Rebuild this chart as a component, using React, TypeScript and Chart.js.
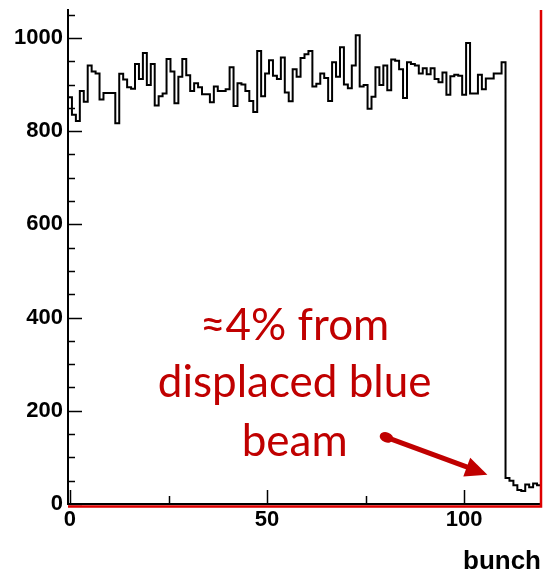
import React, { useEffect, useRef } from "react";
import { Chart, registerables } from "chart.js";

Chart.register(...registerables);

// Counts per bunch crossing (bins centred on the bunch number).
const bunchCounts: number[] = [
  873, 835, 822, 886, 863, 941, 928, 924, 868, 882,
  882, 882, 817, 923, 911, 894, 891, 944, 912, 968,
  899, 944, 855, 875, 881, 955, 928, 860, 917, 955,
  920, 886, 903, 894, 879, 879, 862, 896, 886, 886,
  890, 937, 854, 903, 900, 886, 865, 841, 972, 875,
  924, 952, 919, 912, 958, 883, 864, 933, 917, 957,
  965, 972, 896, 902, 924, 914, 865, 948, 917, 980,
  900, 892, 941, 1006, 896, 899, 848, 874, 937, 899,
  941, 888, 954, 951, 933, 871, 948, 944, 941, 924,
  935, 922, 935, 912, 905, 926, 878, 918, 921, 919,
  878, 989, 881, 881, 921, 890, 913, 913, 924, 924,
  948, 56, 50, 40, 30, 28, 42, 36, 44, 40,
];

const xLabelTicks: number[] = [0, 50, 100];
const xMinorTicks: number[] = [25, 75];
const yLabelTicks: number[] = [0, 200, 400, 600, 800, 1000];
const yMinorTicks: number[] = [
  50, 100, 150, 250, 300, 350, 450, 500, 550, 650, 700, 750, 850, 900, 950, 1050,
];

const xAxisTitle = "bunch";
const noteLines: string[] = ["\u22484% from", "displaced blue", "beam"];
// Note anchor points in data units: text centre x, line baselines, arrow ends.
const noteCenterX = 57;
const noteBaselines: number[] = [351, 229, 104];
const arrowTail = { x: 80.3, y: 143 };
const arrowTip = { x: 105.9, y: 63 };

const NOTE_RED = "#c00000";
const FRAME_RED = "#dd0000";
const AXIS_FONT = "'Liberation Sans', Arial, Helvetica, sans-serif";

const frameAndNotes = {
  id: "frameAndNotes",
  afterDatasetsDraw(chart: any) {
    const { ctx, chartArea, scales } = chart;
    const xs = scales.x;
    const ys = scales.y;
    const { left, right, top, bottom } = chartArea;

    ctx.save();
    // inward tick marks
    ctx.strokeStyle = "#000";
    ctx.lineWidth = 1.5;
    const yTick = (v: number, len: number) => {
      const py = Math.round(ys.getPixelForValue(v)) + 0.5;
      ctx.beginPath();
      ctx.moveTo(left, py);
      ctx.lineTo(left + len, py);
      ctx.stroke();
    };
    yLabelTicks.forEach((v) => yTick(v, 14));
    yMinorTicks.forEach((v) => yTick(v, 7));
    const xTick = (v: number, len: number) => {
      const px = Math.round(xs.getPixelForValue(v)) + 0.5;
      ctx.beginPath();
      ctx.moveTo(px, bottom);
      ctx.lineTo(px, bottom - len);
      ctx.stroke();
    };
    xLabelTicks.forEach((v) => xTick(v, 14));
    xMinorTicks.forEach((v) => xTick(v, 8));

    // red outline along the bottom and right edges
    ctx.strokeStyle = FRAME_RED;
    ctx.lineWidth = 2.5;
    ctx.beginPath();
    ctx.moveTo(left, bottom + 2.5);
    ctx.lineTo(right, bottom + 2.5);
    ctx.lineTo(right, top);
    ctx.stroke();

    // annotation text
    ctx.fillStyle = NOTE_RED;
    ctx.font = "44px Lato, 'Open Sans', sans-serif";
    ctx.textAlign = "center";
    ctx.textBaseline = "alphabetic";
    const cx = xs.getPixelForValue(noteCenterX);
    noteLines.forEach((line, i) => {
      ctx.fillText(line, cx, ys.getPixelForValue(noteBaselines[i]));
    });

    // arrow from the note to the low bunches
    const x0 = xs.getPixelForValue(arrowTail.x);
    const y0 = ys.getPixelForValue(arrowTail.y);
    const x1 = xs.getPixelForValue(arrowTip.x);
    const y1 = ys.getPixelForValue(arrowTip.y);
    const ang = Math.atan2(y1 - y0, x1 - x0);
    const headLen = 22;
    const headHalf = 10;
    const bx = x1 - headLen * Math.cos(ang);
    const by = y1 - headLen * Math.sin(ang);
    ctx.strokeStyle = NOTE_RED;
    ctx.lineWidth = 5;
    ctx.lineCap = "butt";
    ctx.beginPath();
    ctx.moveTo(x0, y0);
    ctx.lineTo(bx + 2 * Math.cos(ang), by + 2 * Math.sin(ang));
    ctx.stroke();
    ctx.beginPath();
    ctx.moveTo(x1, y1);
    ctx.lineTo(bx - headHalf * Math.sin(ang), by + headHalf * Math.cos(ang));
    ctx.lineTo(bx + headHalf * Math.sin(ang), by - headHalf * Math.cos(ang));
    ctx.closePath();
    ctx.fill();
    // oval start cap
    ctx.beginPath();
    ctx.ellipse(x0, y0, 7, 5, ang, 0, Math.PI * 2);
    ctx.fill();
    ctx.restore();
  },
};

const zeroPadding = (s: any) => {
  s.paddingTop = 0;
  s.paddingBottom = 0;
  s.paddingLeft = 0;
  s.paddingRight = 0;
};

export default function App() {
  const canvasRef = useRef<HTMLCanvasElement | null>(null);

  useEffect(() => {
    if (!canvasRef.current) return;
    // bin edges: each bin spans n-0.5 .. n+0.5
    const points = bunchCounts.map((v, i) => ({ x: i - 0.5, y: v }));
    points.push({ x: bunchCounts.length - 0.5, y: bunchCounts[bunchCounts.length - 1] });

    const tickFont = { family: AXIS_FONT, size: 22, weight: "bold" as const };

    const chart = new Chart(canvasRef.current, {
      type: "line",
      data: {
        datasets: [
          {
            data: points,
            stepped: "before",
            borderColor: "#000",
            borderWidth: 2,
            pointRadius: 0,
            fill: false,
            tension: 0,
          },
        ],
      },
      options: {
        animation: false,
        responsive: false,
        devicePixelRatio: 1,
        layout: { padding: { left: 0, right: 2, top: 10, bottom: 0 } },
        plugins: {
          legend: { display: false },
          tooltip: { enabled: false },
        },
        scales: {
          x: {
            type: "linear",
            min: -0.5,
            max: 119.5,
            grid: { display: false, drawTicks: false },
            border: { display: true, color: "#000", width: 2 },
            ticks: {
              color: "#000",
              font: tickFont,
              padding: 3,
              maxRotation: 0,
              autoSkip: false,
              callback: (v: any) => String(v),
            },
            afterBuildTicks: (s: any) => {
              s.ticks = xLabelTicks.map((v) => ({ value: v }));
            },
            afterFit: (s: any) => {
              s.height = 71;
              zeroPadding(s);
            },
            title: {
              display: true,
              text: xAxisTitle,
              align: "end",
              color: "#000",
              font: { family: AXIS_FONT, size: 26, weight: "bold", lineHeight: 1 },
              padding: { top: 0, bottom: 0 },
            },
          },
          y: {
            type: "linear",
            min: 0,
            max: 1060,
            grid: { display: false, drawTicks: false },
            border: { display: true, color: "#000", width: 2 },
            ticks: {
              color: "#000",
              font: tickFont,
              padding: 5,
              callback: (v: any) => String(v),
            },
            afterBuildTicks: (s: any) => {
              s.ticks = yLabelTicks.map((v) => ({ value: v }));
            },
            afterFit: (s: any) => {
              s.width = 68;
              zeroPadding(s);
            },
          },
        },
      },
      plugins: [frameAndNotes],
    });
    return () => chart.destroy();
  }, []);

  return (
    <div style={{ position: "fixed", left: 0, top: 0, width: 543, height: 575, background: "#fff" }}>
      <canvas ref={canvasRef} width={543} height={575} />
    </div>
  );
}
